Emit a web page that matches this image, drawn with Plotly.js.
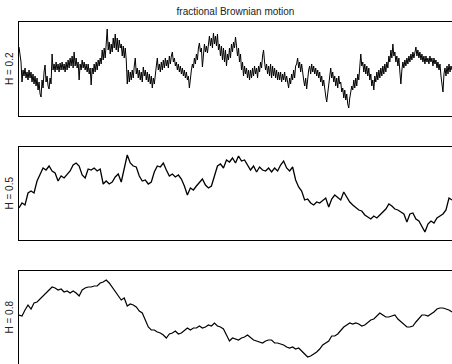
<!DOCTYPE html>
<html>
<head>
<meta charset="utf-8">
<script src="https://cdn.plot.ly/plotly-3.0.1.min.js"></script>
<style>
  html, body { margin: 0; padding: 0; background: #ffffff; }
  #chart { width: 452px; height: 364px; }
</style>
</head>
<body>
<div id="chart"></div>
<script>
// Sample paths of fractional Brownian motion for three Hurst exponents.
const hurstLabels = ["H = 0.2", "H = 0.5", "H = 0.8"];

const pathH02 = [
  2.2, 1.4, 0.7, -1.3, -0.1, -0.7, 0.1, -0.9, -0.3, -1.1,
  -0.1, -0.9, -0.3, -1.3, -0.5, -1.5, -0.7, -1.7, -0.9, -2.1,
  -1.3, -2.5, -2.8, -1.1, -1.9, -0.3, 0.4, -1.3, -0.7, -1.7,
  -2.0, -0.9, -1.5, 1.5, -0.1, 0.5, -0.3, 0.7, -0.1, 0.5,
  -0.3, 0.6, -0.1, 0.7, -0.1, 0.5, -0.3, 0.7, -0.1, 0.9,
  0.1, 1.1, 0.3, 1.3, 0.1, 1.7, 0.3, 1.1, 0.1, 0.7,
  -1.1, 0.5, -0.1, 0.9, 0.1, 0.7, -0.1, 0.5, -0.3, 0.5,
  -0.5, 0.1, -1.6, 0.1, -0.5, 0.5, -0.3, 0.7, -0.1, 0.9,
  0.3, 1.1, 0.5, 1.9, 0.9, 2.1, 1.1, 2.5, 4.0, 1.9,
  2.7, 1.5, 2.5, 1.7, 3.1, 2.1, 3.5, 1.9, 3.1, 1.7,
  2.9, 2.1, 2.5, 1.3, 2.3, 1.1, 2.1, 0.9, -1.5, -0.1,
  -1.3,
  -0.3, -1.1, -0.1, -0.9, 0.3, 1.1, -0.5, 0.1, -0.9, -0.1,
  -1.1, -0.3, -1.3, 0.2, -0.7, -0.1, -1.1, -0.3, -1.3, -0.5,
  -1.5, -0.7, -1.9, -0.9, -1.5, -0.3, 0.3, 1.1, -0.1, 0.5,
  -0.3, 0.7, -0.1, 0.9, 0.1, 1.1, 0.3, 0.9, 0.1, 1.3,
  0.5, 1.3, 1.7, 0.7, 1.1, 0.3, 0.7, -0.1, 0.5, -0.3,
  0.3, -0.5, 0.1, -0.7, -0.1, -0.9, -0.3, -1.1, -0.7, -1.9,
  -0.5, -0.1, 0.5, 0.1, 1.1, 0.5, 1.5, 0.9, 2.1, 2.6,
  1.7, 2.1, 0.2, 1.9, 2.5, 1.7, 2.3, 1.6, 2.7, 3.3,
  2.3, 3.1, 2.1, 3.6, 2.5, 3.3, 2.3, 3.5, 1.9, 2.5,
  1.3, 2.3, 0.9, 2.1, 0.7, 1.9, 0.3, 1.5, 0.9, 2.1,
  1.1,
  2.5, 1.7, 2.7, 2.1, 3.2, 2.3, 1.3, 2.1, 0.7, 1.5,
  -0.1, 0.7, -0.7, 0.3, -0.5, 0.1, -0.9, -0.1, -1.1, -0.1,
  -0.9, 0.1, -0.7, 0.3, -0.5, 0.1, -0.9, 0.3, -0.3, 0.7,
  0.1, 1.3, 1.9, 0.7, -0.1, 0.5, -0.5, 0.3, -0.7, 0.5,
  -0.9, 0.3, -0.7, 0.1, -0.9, -0.1, -1.1, -0.3, -1.1, -0.3,
  -1.3, -0.5, -1.1, -0.3, -1.3, -0.7, -1.5, -1.9, -0.9, -1.5,
  -0.5, -1.1, -0.1, -0.9, 0.3, 0.5, 1.1, 0.1, 0.7, -0.3,
  0.5, -0.5, -1.1, -1.7, -0.9, -2.0, -0.7, -0.1, 0.3, -0.5,
  0.5, -0.3, 0.3, -0.5, 0.1, -0.7, -0.1, -0.9, -0.3, -1.3,
  -0.7, -1.7, -1.1, -2.3, -2.7, -3.3, -2.5, -1.5, -0.5, 0.1,
  -0.9, -0.3, -1.3, -0.7, -1.7, -0.9, -1.9, -0.7, -1.5, -1.3,
  -2.3, -1.9, -2.9, -2.1, -3.1, -2.5, -3.5, -3.9, -2.9, -2.3,
  -1.7, -2.1, -1.1, -1.9, -0.9, -1.7, -0.5, -1.1, 0.3, 1.5,
  0.3, 0.7, -0.3, 0.5, -0.5, 0.3, -0.7, 0.1, -1.1, -0.5,
  -1.7, -1.1, -2.1, -0.7, -1.3, -0.3, -1.1, -0.1, -0.9, 0.1,
  -0.7, 0.3, -0.5, 0.5, -0.3, 0.7, 0.1, 1.3, 0.7, 1.9,
  1.1, 2.5, 1.3, 1.7, 0.7, 1.3, 0.3, 1.1, -0.3, -1.5,
  -0.1, 0.7, 0.1, 0.9, 0.3, 1.1, 0.5, 1.3, 0.7, 1.5,
  0.9, 1.7, 1.1, 1.9, 2.2, 1.3, 1.9, 1.1, 1.7, 0.9,
  1.5, 0.7, 1.3, 0.5, 1.3, 0.7, 1.1, 0.5, 1.3, 0.7,
  1.1, 0.3, 1.1, 0.5, 0.9, 0.1, 0.7, -0.1, 0.5, -0.7,
  -1.5, -2.3, -0.5, 0.1, -0.7, 0.3, -0.5, 0.5, -0.3, 0.3, -0.1
];

const pathH05 = [
  -1.5, -1.0, -1.2, 0.0, 0.2, 0.0, 1.2, 1.9, 2.5, 2.3, 2.7, 2.2, 2.0, 1.2, 1.7, 1.5,
  1.9, 2.2, 2.8, 3.0, 2.7, 1.8, 1.5, 2.4, 2.3, 2.5, 2.2, 2.4, 0.9, 1.2, 0.9, 1.1,
  1.6, 1.9, 1.1, 2.3, 3.8, 3.0, 2.7, 2.6, 1.7, 1.2, 1.3, 0.9, 1.1, 2.1, 2.7, 2.6,
  3.0, 2.3, 1.7, 1.9, 1.6, 1.8, 1.4, 0.7, -0.2, 0.5, 0.3, 0.7, 1.0, 1.4, 0.8, 0.5,
  0.7, 1.8, 2.7, 2.9, 2.5, 3.3, 3.1, 3.5, 3.0, 3.7, 3.2, 3.3, 2.8, 2.3, 2.7, 2.1,
  2.6, 2.3, 2.2, 2.5, 2.1, 2.5, 2.2, 2.8, 3.2, 2.5, 2.2, 2.6, 1.3, 0.6, 0.2, -0.7,
  -0.6, -1.0, -1.2, -0.9, -1.0, -0.7, -0.5, -1.4, -0.6, -0.2, -0.5, -0.7, 0.1, -0.4, -0.9, -1.2,
  -1.5, -1.7, -1.8, -2.2, -2.4, -2.6, -2.3, -2.5, -2.2, -1.9, -1.6, -1.1, -1.3, -1.6, -1.7, -1.9,
  -2.1, -2.9, -2.1, -2.0, -2.6, -2.8, -3.3, -3.9, -3.1, -2.8, -3.0, -2.5, -2.3, -2.1, -1.7, -0.5,
  -0.7
];

const pathH08 = [
  0.2, 0.1, 0.7, 1.2, 0.8, 1.4, 1.5, 1.8, 2.0, 2.3, 2.6, 3.0, 2.9, 2.7, 2.8, 2.5,
  2.6, 2.4, 2.6, 2.4, 2.1, 2.7, 2.9, 3.0, 3.0, 3.1, 3.1, 3.4, 3.5, 3.7, 3.4, 3.0,
  2.6, 2.1, 1.7, 1.9, 1.1, 1.3, 1.2, 1.0, 0.6, 0.4, -0.3, -1.0, -1.3, -1.3, -1.5, -1.6,
  -1.8, -2.1, -1.7, -1.6, -1.4, -1.7, -1.6, -1.3, -1.1, -1.3, -1.1, -1.1, -0.9, -1.1, -1.0, -0.8,
  -0.9, -0.6, -0.9, -1.0, -1.2, -1.8, -2.4, -2.1, -2.2, -2.3, -2.1, -2.0, -1.8, -2.1, -2.3, -2.4,
  -2.5, -2.6, -2.4, -2.3, -2.3, -2.6, -2.6, -2.7, -2.8, -3.0, -3.1, -3.0, -3.2, -3.1, -3.4, -3.7,
  -4.0, -3.9, -3.7, -3.5, -3.2, -2.8, -2.6, -2.4, -1.9, -1.9, -1.7, -1.3, -1.0, -0.8, -0.6, -0.7,
  -0.6, -0.7, -0.9, -0.8, -0.5, -0.3, -0.2, 0.1, 0.4, 0.2, 0.0, 0.0, 0.1, 0.2, -0.2, -0.5,
  -0.7, -1.0, -1.0, -0.9, -0.5, -0.2, 0.2, 0.2, 0.1, 0.3, 0.5, 0.8, 0.9, 0.9, 0.8, 0.7,
  0.5
];

const paths = [pathH02, pathH05, pathH08];
const lineWidths = [1, 1.3, 1.2];

// Vertical extent of each panel (same units for every path).
const yRanges = [[-4.7, 4.7], [-4.7, 4.6], [-4.7, 4.6]];

// Time runs from 0 to 1 over each path.
function timeGrid(n) {
  const t = [];
  for (let i = 0; i < n; i++) t.push(i / (n - 1));
  return t;
}

const W = 452, H = 364;
const ML = 19;
// Panel boxes in pixels (top, bottom).
const panels = [[22, 116], [147, 240], [271, 364]];

const traces = paths.map((p, k) => ({
  type: "scatter",
  mode: "lines",
  x: timeGrid(p.length),
  y: p,
  xaxis: k === 0 ? "x" : "x" + (k + 1),
  yaxis: k === 0 ? "y" : "y" + (k + 1),
  line: { color: "#000000", width: lineWidths[k] },
  hoverinfo: "skip",
  showlegend: false
}));

const layout = {
  width: W,
  height: H,
  margin: { l: ML, r: 0, t: 0, b: 0, pad: 0 },
  paper_bgcolor: "#ffffff",
  plot_bgcolor: "#ffffff",
  font: { family: "Liberation Sans, Arial, sans-serif", size: 10, color: "#222222" },
  showlegend: false,
  title: {
    text: "fractional Brownian motion",
    font: { family: "Liberation Sans, Arial, sans-serif", size: 10, color: "#222222" },
    x: 0.5, xref: "paper", xanchor: "center",
    y: 1 - 11 / H, yref: "container", yanchor: "middle"
  },
  annotations: []
};

panels.forEach((pb, k) => {
  const sfx = k === 0 ? "" : String(k + 1);
  const dom = [1 - pb[1] / H, 1 - pb[0] / H];
  const last = k === panels.length - 1;
  layout["xaxis" + sfx] = {
    domain: [0, 1],
    anchor: "y" + sfx,
    range: [0, 1],
    showline: true,
    linecolor: "#000000",
    linewidth: 1,
    mirror: !last,
    side: last ? "top" : "bottom",
    showgrid: false,
    zeroline: false,
    ticks: "",
    showticklabels: false,
    fixedrange: true
  };
  layout["yaxis" + sfx] = {
    domain: dom,
    anchor: "x" + sfx,
    range: yRanges[k],
    showline: true,
    linecolor: "#000000",
    linewidth: 1,
    mirror: false,
    showgrid: false,
    zeroline: false,
    ticks: "",
    showticklabels: false,
    fixedrange: true
  };
  layout.annotations.push({
    text: hurstLabels[k],
    xref: "paper", yref: "paper",
    x: (9 - ML) / (W - ML),
    y: 1 - (pb[0] + pb[1]) / 2 / H,
    xanchor: "center", yanchor: "middle",
    textangle: -90,
    showarrow: false,
    font: { family: "Liberation Sans, Arial, sans-serif", size: 10, color: "#222222" }
  });
});

Plotly.newPlot("chart", traces, layout, { staticPlot: true, displayModeBar: false });
</script>
</body>
</html>
